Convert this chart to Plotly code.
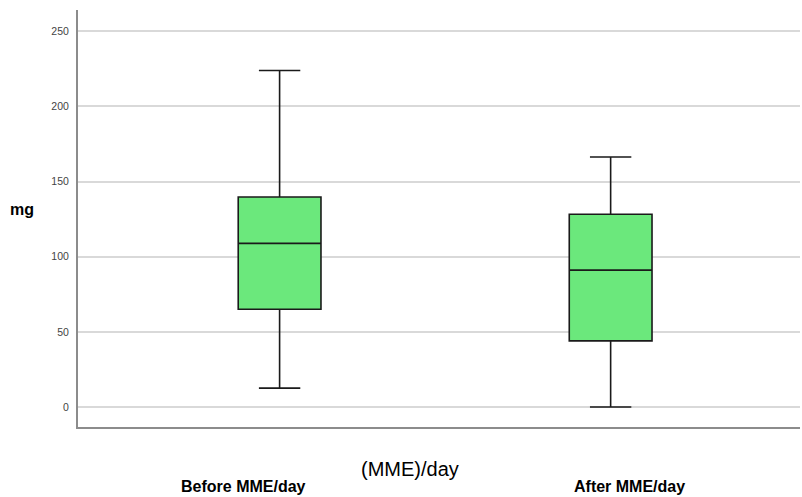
import plotly.graph_objects as go

categories = ["Before MME/day", "After MME/day"]
lower_fence = [12.6, 0.0]
q1_vals = [65.1, 44.0]
median_vals = [108.9, 91.1]
q3_vals = [139.8, 128.3]
upper_fence = [223.9, 166.4]
y_ticks = [0, 50, 100, 150, 200, 250]

FONT = "Arial, Liberation Sans, sans-serif"

fig = go.Figure()
fig.add_trace(go.Box(
    x=categories,
    lowerfence=lower_fence,
    q1=q1_vals,
    median=median_vals,
    q3=q3_vals,
    upperfence=upper_fence,
    fillcolor="#6be87c",
    line=dict(color="#1a1a1a", width=1.6),
    width=0.25,
    whiskerwidth=0.5,
    boxpoints=False,
    hoverinfo="skip",
    showlegend=False,
))

fig.update_layout(
    width=802, height=497,
    margin=dict(l=78, r=2, t=10, b=70),
    paper_bgcolor="white", plot_bgcolor="white",
    font=dict(family=FONT),
    xaxis=dict(
        type="category",
        range=[-0.609, 1.572],
        showline=True, linecolor="#8c8c8c", linewidth=2,
        showgrid=False, showticklabels=False, ticks="",
        zeroline=False,
    ),
    yaxis=dict(
        range=[-13.3, 264.2],
        tickvals=y_ticks,
        showline=True, linecolor="#8c8c8c", linewidth=2,
        showgrid=True, gridcolor="#d9d9d9", gridwidth=1.5,
        zeroline=False, ticks="",
        tickfont=dict(size=10.5, color="#444444", family=FONT),
        ticklabelstandoff=5,
    ),
    annotations=[
        dict(text="mg", xref="paper", yref="paper", x=-0.078, y=0.521,
             showarrow=False, xanchor="center", yanchor="middle",
             font=dict(size=16, color="black", family=FONT, weight="bold")),
        dict(text="(MME)/day", xref="paper", yref="paper", x=0.46, y=-0.1,
             showarrow=False, xanchor="center", yanchor="middle",
             font=dict(size=20, color="black", family=FONT)),
        dict(text="Before MME/day", xref="paper", yref="paper", x=0.2299, y=-0.1438,
             showarrow=False, xanchor="center", yanchor="middle",
             font=dict(size=16, color="black", family=FONT, weight="bold")),
        dict(text="After MME/day", xref="paper", yref="paper", x=0.7645, y=-0.1438,
             showarrow=False, xanchor="center", yanchor="middle",
             font=dict(size=16, color="black", family=FONT, weight="bold")),
    ],
)

fig.write_html(
    "out.html",
    config={"displayModeBar": False},
    post_script="document.body.style.margin='0';document.body.style.overflow='hidden';",
)
